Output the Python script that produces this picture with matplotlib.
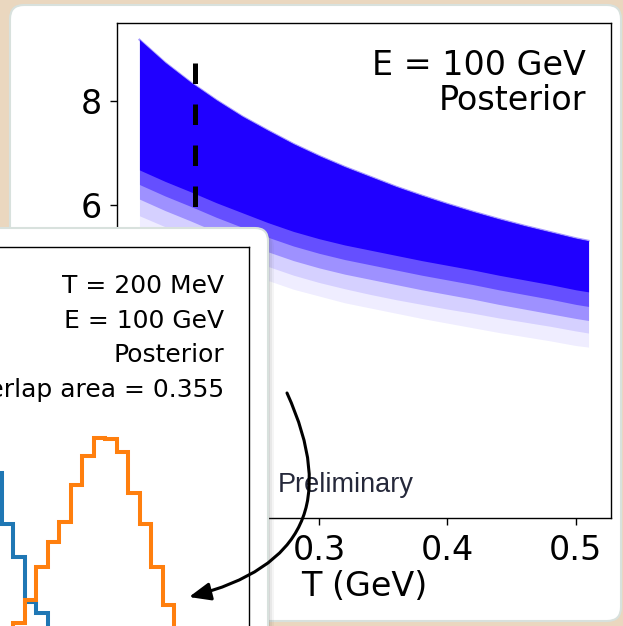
import matplotlib

matplotlib.use("Agg")
import matplotlib.pyplot as plt
from matplotlib.patches import ArrowStyle, FancyArrowPatch, FancyBboxPatch
from matplotlib.transforms import IdentityTransform

W, H = 623, 626

# posterior band at E = 100 GeV: upper edge, edge of the dense core and the fading tails
temperature = [0.16, 0.18, 0.20, 0.22, 0.24, 0.26, 0.28, 0.30, 0.32, 0.34,
               0.36, 0.38, 0.40, 0.42, 0.44, 0.46, 0.48, 0.50, 0.51]
band_top = [9.18, 8.74, 8.36, 8.02, 7.71, 7.44, 7.18, 6.95, 6.74, 6.55,
            6.36, 6.19, 6.03, 5.88, 5.74, 5.61, 5.49, 5.37, 5.32]
band_core = [6.68, 6.46, 6.26, 6.05, 5.86, 5.67, 5.50, 5.36, 5.24, 5.14,
             5.04, 4.94, 4.85, 4.76, 4.66, 4.57, 4.48, 4.38, 4.34]
band_tail1 = [6.40, 6.18, 5.98, 5.77, 5.58, 5.39, 5.22, 5.08, 4.96, 4.86,
              4.76, 4.66, 4.57, 4.48, 4.38, 4.29, 4.20, 4.10, 4.06]
band_tail2 = [6.12, 5.90, 5.70, 5.49, 5.30, 5.11, 4.94, 4.80, 4.68, 4.58,
              4.48, 4.38, 4.29, 4.20, 4.10, 4.01, 3.92, 3.83, 3.79]
band_tail3 = [5.80, 5.59, 5.40, 5.20, 5.02, 4.83, 4.66, 4.52, 4.40, 4.29,
              4.19, 4.10, 4.01, 3.93, 3.84, 3.76, 3.68, 3.59, 3.55]
band_tail4 = [5.52, 5.31, 5.12, 4.92, 4.74, 4.56, 4.39, 4.26, 4.13, 4.03,
              3.93, 3.83, 3.74, 3.65, 3.56, 3.48, 3.40, 3.31, 3.28]
tail_alpha = [0.07, 0.12, 0.30, 0.45]

t_slice = 0.203
slice_top, slice_bottom = 8.73, 5.97

# inset: histograms at T = 200 MeV
blue_edges = [-1, 0, 1, 2, 3, 4]
blue_counts = [1.87, 1.36, 1.03, 0.58, 0.47]
orange_edges = list(range(1, 16))
orange_counts = [0.37, 0.60, 0.93, 1.18, 1.38, 1.75, 2.04, 2.22, 2.21, 2.08, 1.67, 1.36, 0.93, 0.55]

BAND = "#2000ff"
BEIGE = "#ead7bf"

plt.rcParams["font.family"] = "DejaVu Sans"

fig = plt.figure(figsize=(W / 100, H / 100), dpi=100)
fig.patch.set_facecolor(BEIGE)
pix = IdentityTransform()


def fpos(x, y):
    # pixel position (from top left) to figure fraction
    return x / W, 1 - y / H


# slide cards
card = FancyBboxPatch((10, 5), 611, 616, boxstyle="round,pad=0,rounding_size=14",
                      transform=pix, fc="white", ec="#d8e1dd", lw=1.5, zorder=0)
fig.add_artist(card)

ax = fig.add_axes([117 / W, (H - 518) / H, 494 / W, 495 / H], zorder=1)
tails = [band_tail4, band_tail3, band_tail2, band_tail1]
for edge, a in zip(tails, tail_alpha):
    ax.fill_between(temperature, band_top, edge, color=BAND, alpha=a, lw=0)
ax.fill_between(temperature, band_top, band_core, color=BAND, alpha=1.0, lw=0)
ax.plot(temperature, band_top, color=BAND, alpha=0.4, lw=1.5)
ax.plot([t_slice, t_slice], [slice_top, slice_bottom], color="black", lw=3.6,
        ls=(0, (4.1, 4.1)))

ax.set_xlim(0.1425, 0.5275)
ax.set_ylim(0, 9.5)
ax.set_xticks([0.3, 0.4, 0.5])
ax.set_yticks([6, 8])
ax.tick_params(labelsize=24, length=5, width=1)
ax.tick_params(axis="x", pad=6.5)
ax.tick_params(axis="y", pad=6)
ax.set_xlabel("T (GeV)", fontsize=24, labelpad=2)
for s in ax.spines.values():
    s.set_linewidth(1.0)

fig.text(*fpos(586, 75), "E = 100 GeV", fontsize=24, ha="right", va="baseline", zorder=1.5)
fig.text(*fpos(586, 110), "Posterior", fontsize=24, ha="right", va="baseline", zorder=1.5)
fig.text(*fpos(278, 492), "Preliminary", fontsize=19.5, family="Liberation Sans",
         color="#25283a", ha="left", va="baseline", zorder=1.5)

# second card with the histogram panel
for off, a in [(6, 0.06), (4, 0.08), (2, 0.12)]:
    fig.add_artist(FancyBboxPatch((-30 + off, -30 - off), 298, 428,
                                  boxstyle="round,pad=0,rounding_size=13",
                                  transform=pix, fc="#555555", ec="none", alpha=a, zorder=2))
fig.add_artist(FancyBboxPatch((-30, -30), 298, 428, boxstyle="round,pad=0,rounding_size=13",
                              transform=pix, fc="white", ec="#d8e1dd", lw=1.5, zorder=2.1))

ax_in = fig.add_axes([-228.5 / W, -34 / H, 477.5 / W, 413 / H], zorder=3)
ax_in.stairs(blue_counts, blue_edges, color="#1f77b4", lw=2.9)
ax_in.stairs(orange_counts, orange_edges, color="#ff7f0e", lw=2.9)
ax_in.set_xlim(-20, 21.5)
ax_in.set_ylim(0, 4.13)
ax_in.set_xticks([])
ax_in.set_yticks([])
for s in ax_in.spines.values():
    s.set_linewidth(1.0)

inset_lines = ["T = 200 MeV", "E = 100 GeV", "Posterior", "Overlap area = 0.355"]
for line, base in zip(inset_lines, [293, 328, 362, 397]):
    fig.text(*fpos(224, base), line, fontsize=18, ha="right", va="baseline", zorder=4)

arrow = FancyArrowPatch((287, H - 393), (189, H - 597), transform=pix,
                        connectionstyle="arc3,rad=-0.6",
                        arrowstyle=ArrowStyle("-|>", head_length=0.65, head_width=0.27),
                        mutation_scale=20, lw=2.2, color="black",
                        shrinkA=0, shrinkB=0, zorder=5)
fig.add_artist(arrow)

fig.savefig("out.png", dpi=100, facecolor=fig.get_facecolor())
